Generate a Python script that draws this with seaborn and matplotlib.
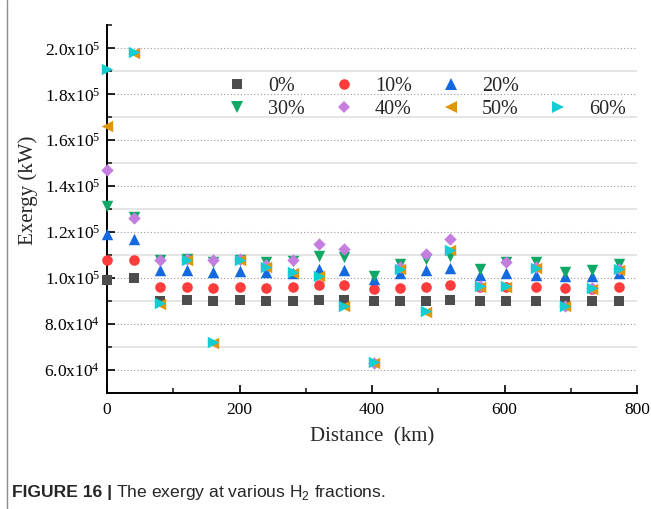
import numpy as np
import pandas as pd
import matplotlib
matplotlib.use('Agg')
import matplotlib.pyplot as plt
import seaborn as sns
from matplotlib.lines import Line2D
from matplotlib.ticker import MultipleLocator, FuncFormatter

# ---------------- data ----------------
distance = [0, 40, 80, 120, 160, 200, 240, 280, 320, 358,
            403, 443, 482, 517, 563, 603, 647, 691, 732, 773]

h2_0 = [99.1, 100.0, 90.1, 90.4, 90.1, 90.4, 90.1, 90.1, 90.4, 90.4,
        89.7, 90.1, 90.1, 90.4, 90.1, 89.7, 90.1, 90.1, 89.7, 89.7]
h2_10 = [107.8, 107.8, 96.2, 96.2, 95.7, 96.2, 95.7, 95.9, 96.7, 96.7,
         95.0, 95.7, 96.2, 97.0, 95.9, 96.0, 95.9, 95.5, 95.3, 95.9]
h2_20 = [119.1, 117.0, 103.2, 103.2, 102.4, 102.8, 102.4, 102.2, 103.9, 103.5,
         99.3, 102.0, 103.2, 104.3, 101.4, 102.0, 101.4, 100.6, 101.0, 102.0]
h2_30 = [131.4, 126.3, 107.6, 108.0, 107.0, 107.8, 106.8, 107.3, 109.7, 109.0,
         100.6, 106.1, 108.3, 109.7, 103.9, 107.0, 106.8, 102.4, 103.5, 106.1]
h2_40 = [147.0, 126.1, 107.8, 108.0, 107.8, 108.0, 105.5, 107.8, 114.8, 112.6,
         63.0, 104.5, 110.4, 117.0, 96.5, 106.8, 104.5, 87.8, 95.4, 104.0]
h2_50 = [166.2, 198.2, 88.7, 107.8, 71.6, 107.8, 104.6, 102.2, 100.6, 87.5,
         63.0, 103.9, 85.3, 112.0, 96.2, 96.2, 104.3, 87.7, 95.2, 103.6]
h2_60 = [190.9, 198.4, 88.9, 107.8, 71.8, 107.8, 104.8, 102.4, 100.6, 87.7,
         63.2, 104.0, 85.4, 112.2, 96.4, 96.4, 104.4, 87.9, 95.4, 103.8]

fractions = ['0%', '10%', '20%', '30%', '40%', '50%', '60%']
series = [h2_0, h2_10, h2_20, h2_30, h2_40, h2_50, h2_60]

x_ticks = [0, 200, 400, 600, 800]

# ---------------- styling ----------------
colors = ['#4d4d4d', '#ff3b3b', '#1469e0', '#0fa866', '#c47ee0', '#de960c', '#14cdd2']
markers = ['s', 'o', '^', 'v', 'D', '<', '>']
sizes = [48, 58, 68, 68, 40, 68, 68]

sns.set_style('ticks')
plt.rcParams['font.family'] = ['Liberation Serif', 'DejaVu Serif']

df = pd.DataFrame({
    'Distance': np.tile(distance, len(fractions)),
    'Exergy': np.concatenate([np.array(s) * 1000 for s in series]),
    'Fraction': np.repeat(fractions, len(distance)),
})

fig = plt.figure(figsize=(6.51, 5.09), dpi=100)
W, H = 651, 509
ax = fig.add_axes([107 / W, 1 - 392.5 / H, 530 / W, (392.5 - 25.5) / H])

for frac, mk, col, s in zip(fractions, markers, colors, sizes):
    sub = df[df['Fraction'] == frac]
    sns.scatterplot(data=sub, x='Distance', y='Exergy', marker=mk, color=col,
                    s=s, linewidth=0, ax=ax, clip_on=False, zorder=3, legend=False)

ax.set_xlim(0, 800)
ax.set_ylim(50000, 210000)
ax.set_xticks(x_ticks)
ax.xaxis.set_minor_locator(MultipleLocator(100))
ax.yaxis.set_major_locator(MultipleLocator(20000))
ax.yaxis.set_minor_locator(MultipleLocator(10000))


def sci_fmt(v, pos):
    e = int(np.floor(np.log10(v)))
    m = v / 10 ** e
    return r'$\mathregular{%.1fx10^{%d}}$' % (m, e)


ax.yaxis.set_major_formatter(FuncFormatter(sci_fmt))

ax.set_axisbelow(True)
ax.grid(False)
ax.yaxis.grid(True, which='major', linestyle=(0, (1, 2)), color='#9a9a9a', linewidth=0.8)
ax.yaxis.grid(True, which='minor', linestyle='-', color='#e3e3e3', linewidth=1.3)

sns.despine(ax=ax)
for sp in ['left', 'bottom']:
    ax.spines[sp].set_linewidth(1.4)
    ax.spines[sp].set_color('black')

ax.tick_params(which='major', direction='in', length=6, width=1.2,
               labelsize=12.5, pad=5, colors='black')
ax.tick_params(axis='x', which='major', pad=7)
ax.tick_params(which='minor', direction='in', length=3.5, width=1.2)

ax.set_xlabel('Distance  (km)', fontsize=15, va='center')
ax.xaxis.set_label_coords(0.5, -(437 - 392.5) / 367)
ax.set_ylabel('Exergy (kW)', fontsize=15, va='center')
ax.yaxis.set_label_coords((28 - 107) / 530, (392.5 - 190) / 367)

# legend: row 1 -> 0,10,20 ; row 2 -> 30,40,50,60
hd = {f: Line2D([], [], ls='', marker=m, color=c, markersize=np.sqrt(s), markeredgewidth=0)
      for f, m, c, s in zip(fractions, markers, colors, sizes)}
blank = Line2D([], [], ls='', marker='')
order_h = [hd['0%'], hd['30%'], hd['10%'], hd['40%'], hd['20%'], hd['50%'], blank, hd['60%']]
order_l = ['0%', '30%', '10%', '40%', '20%', '50%', '', '60%']
ax.legend(order_h, order_l, ncol=4, frameon=False, loc='upper left',
          bbox_to_anchor=(221 / W, 1 - 77 / H), bbox_transform=fig.transFigure,
          prop={'family': 'Liberation Serif', 'size': 14.5},
          handlelength=1.6, handletextpad=0.74, columnspacing=1.14,
          labelspacing=0.2, borderpad=0, borderaxespad=0)

# page border line at left
fig.add_artist(Line2D([7 / W, 7 / W], [0, 1], transform=fig.transFigure,
                      color='#8c8c8c', linewidth=1.0))

# caption
t1 = fig.text(12 / W, 1 - 497 / H, 'FIGURE 16 |', fontfamily='Liberation Sans',
              fontweight='bold', fontsize=12.6, va='baseline', ha='left')
renderer = fig.canvas.get_renderer()
bb = t1.get_window_extent(renderer)
fig.text((bb.x1 + 4) / W, 1 - 497 / H, r'The exergy at various H$_{\mathregular{2}}$ fractions.',
         fontfamily='Liberation Sans', fontsize=12.6, va='baseline', ha='left')

fig.savefig('out.png', dpi=100)
